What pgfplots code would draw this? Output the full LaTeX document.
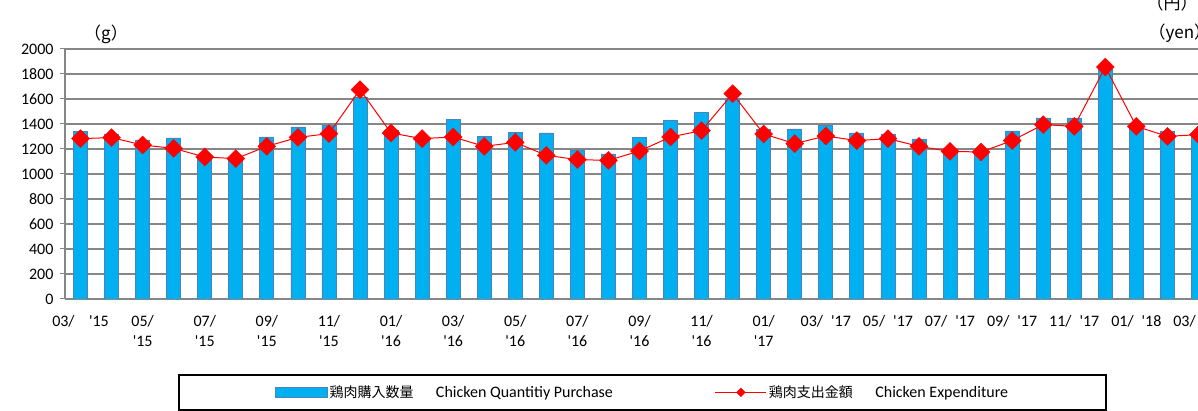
\documentclass[border=0pt]{standalone}
\usepackage{fontspec}
\setmainfont{Carlito}[Ligatures=TeXOff]
\newfontfamily\cjk{Noto Sans CJK JP}
\usepackage{pgfplots}
\pgfplotsset{compat=1.18}
\definecolor{barblue}{RGB}{0,176,240}
\definecolor{baredge}{RGB}{79,129,189}
\definecolor{gridgray}{RGB}{134,134,134}
\definecolor{linered}{RGB}{255,0,0}
\pgfplotstableread{
idx qty exp
0 1341 1283
1 1320 1291
2 1272 1232
3 1288 1205
4 1150 1136
5 1125 1123
6 1296 1221
7 1376 1293
8 1392 1323
9 1616 1675
10 1350 1328
11 1290 1283
12 1435 1296
13 1301 1221
14 1333 1253
15 1328 1149
16 1189 1115
17 1160 1109
18 1293 1184
19 1427 1296
20 1493 1347
21 1608 1643
22 1360 1320
23 1360 1243
24 1387 1304
25 1328 1267
26 1320 1283
27 1280 1221
28 1195 1181
29 1195 1176
30 1344 1267
31 1448 1395
32 1448 1381
33 1835 1856
34 1368 1381
35 1344 1301
36 1320 1315
}\chickendata
\pgfplotsset{
  barlegend/.style={legend image code/.code={\draw[##1,/tikz/.cd,line width=0.8pt] (0pt,-5pt) rectangle (52pt,5pt);}},
  linelegend/.style={legend image code/.code={\draw[##1,mark repeat=2,mark phase=2,mark size=3pt] plot coordinates {(0pt,0pt) (25.5pt,0pt) (51pt,0pt)};}},
}
\begin{document}
\begin{tikzpicture}[x=1pt,y=1pt]
\begin{axis}[
  scale only axis, width=1149pt, height=250pt,
  xmin=-0.5, xmax=36.5, ymin=0, ymax=2000,
  axis x line*=bottom, axis y line*=left,
  axis line style={gridgray, line width=1.5pt},
  ytick={0,200,...,2000},
  xtick={0,2,...,36},
  xticklabels={{03/\hspace{0.9em}'15},{05/\\'15},{07/\\'15},{09/\\'15},{11/\\'15},{01/\\'16},{03/\\'16},{05/\\'16},{07/\\'16},{09/\\'16},{11/\\'16},{01/\\'17},{03/\hspace{0.5em}'17},{05/\hspace{0.5em}'17},{07/\hspace{0.5em}'17},{09/\hspace{0.5em}'17},{11/\hspace{0.5em}'17},{01/\hspace{0.5em}'18},{03/\hspace{0.5em}'18}},
  minor xtick={-0.5,0.5,...,36.5},
  tick align=outside,
  major tick length=5pt, minor tick length=5pt,
  xtick style={draw=none},
  minor x tick style={gridgray, line width=1pt},
  ytick style={gridgray, line width=1pt},
  ymajorgrids, grid style={gridgray, line width=1.5pt},
  xticklabel style={align=center, font=\fontsize{16}{20}\selectfont, yshift=-8pt},
  yticklabel style={font=\fontsize{16}{18}\selectfont, xshift=-3pt},
  /pgf/number format/assume math mode=true,
  /pgf/number format/1000 sep={},
  legend columns=2,
  legend cell align=left,
  legend style={at={(0.5026,-0.3)}, anchor=north, draw=black, line width=1.5pt,
    inner xsep=96pt, inner ysep=9pt, font=\fontsize{16}{19}\selectfont,
    /tikz/every even column/.append style={column sep=100pt}},
]
\coordinate (O) at (rel axis cs:0,0);
\addplot[ybar, bar width=14pt, fill=barblue, draw=baredge, line width=0.8pt, barlegend]
  table[x=idx, y=qty] {\chickendata};
\addlegendentry{{\cjk\fontsize{14}{18}\selectfont 鶏肉購入数量}\hspace{1.4em}Chicken Quantitiy Purchase}
\addplot[linered, line width=1pt, mark=square*, mark size=6.3pt,
  mark options={rotate=45, fill=linered, draw=linered, line width=0.5pt}, linelegend]
  table[x=idx, y=exp] {\chickendata};
\addlegendentry{{\cjk\fontsize{14}{18}\selectfont 鶏肉支出金額}\hspace{1.4em}Chicken Expenditure}
\end{axis}
\path (O) ++(41,265) node[font=\cjk\fontsize{17}{20}\selectfont] {（g）};
\path (O) ++(1078,296) node[font=\cjk\fontsize{17}{20}\selectfont, anchor=west] {（円）};
\path (O) ++(1080,266) node[font=\cjk\fontsize{17}{20}\selectfont, anchor=west] {（yen）};
\path (O) ++(-65,-112) coordinate (BL);
\path (O) ++(1133,299) coordinate (TR);
\pgfresetboundingbox
\useasboundingbox (BL) rectangle (TR);
\end{tikzpicture}
\end{document}
